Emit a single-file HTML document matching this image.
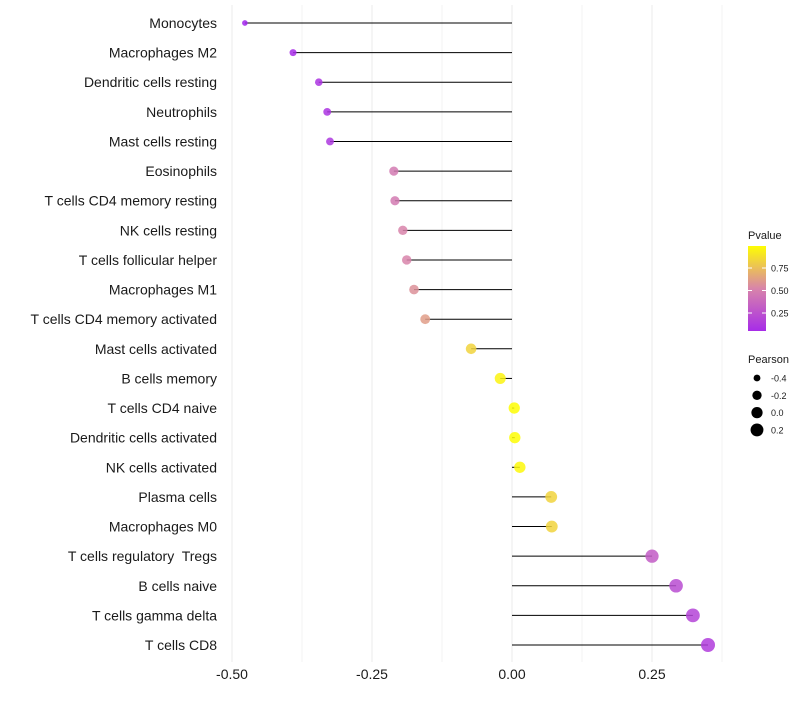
<!DOCTYPE html>
<html><head><meta charset="utf-8"><style>
body{margin:0;background:#fff;font-family:"Liberation Sans",sans-serif;}
svg text{font-family:"Liberation Sans",sans-serif;white-space:pre;}
</style></head><body>
<svg id="chart" width="800" height="700">
<g id="grid"></g>
<g id="marks"></g>
<g id="ylabels"></g>
<g id="xlabels"></g>
<g id="legend"></g>
</svg>
<script>
const categories=["Monocytes","Macrophages M2","Dendritic cells resting","Neutrophils","Mast cells resting","Eosinophils","T cells CD4 memory resting","NK cells resting","T cells follicular helper","Macrophages M1","T cells CD4 memory activated","Mast cells activated","B cells memory","T cells CD4 naive","Dendritic cells activated","NK cells activated","Plasma cells","Macrophages M0","T cells regulatory  Tregs","B cells naive","T cells gamma delta","T cells CD8"];
const pearson=[-0.477,-0.391,-0.345,-0.330,-0.325,-0.211,-0.209,-0.195,-0.188,-0.175,-0.155,-0.073,-0.021,0.004,0.005,0.014,0.070,0.071,0.250,0.293,0.323,0.350];
const pvalue=[0.02,0.06,0.1,0.1,0.12,0.45,0.45,0.5,0.5,0.55,0.6,0.82,0.95,0.99,0.99,0.97,0.82,0.82,0.3,0.22,0.18,0.14];
const xTicks=[-0.5,-0.25,0,0.25];
const xTickLabels=["-0.50","-0.25","0.00","0.25"];
const pTicks=[0.25,0.5,0.75];
const sizeTicks=[-0.4,-0.2,0.0,0.2];
const sizeTickLabels=["-0.4","-0.2","0.0","0.2"];

const NS="http://www.w3.org/2000/svg";
const xs=v=>512+v*560;
const ys=i=>23+i*(622/21);
const rs=v=>Math.sqrt(Math.max(2.5,12.25+49.7*(v+0.39)));
function lerp(a,b,t){return a.map((c,i)=>Math.round(c+(b[i]-c)*t));}
function col(p){const s0=[160,32,240],s1=[216,132,170],s2=[255,255,0];
 const c=p<0.5?lerp(s0,s1,p/0.5):lerp(s1,s2,(p-0.5)/0.5);return `rgb(${c})`;}
function mk(tag,attrs,parent){const e=document.createElementNS(NS,tag);for(const k in attrs)e.setAttribute(k,attrs[k]);parent.appendChild(e);return e;}
const grid=document.getElementById('grid'),marks=document.getElementById('marks'),yl=document.getElementById('ylabels'),xl=document.getElementById('xlabels'),lg=document.getElementById('legend');
for(let v=-0.5;v<=0.38;v+=0.125){const g=mk('line',{x1:xs(v),x2:xs(v),y1:5,y2:662,stroke:'#ebebeb','stroke-width':Math.abs((v*4)%1)<1e-6?1:0.6},grid);

}
categories.forEach((c,i)=>{
 const y=ys(i);
 const l=mk('line',{x1:xs(0),x2:xs(pearson[i]),y1:y,y2:y,stroke:'#000','stroke-width':1},marks);
 
 
 const d=mk('circle',{cx:xs(pearson[i]),cy:y,r:rs(pearson[i]),fill:col(pvalue[i]),'fill-opacity':0.85},marks);
 
 
 const t=mk('text',{x:217,y:y+5,'text-anchor':'end','font-size':14,fill:'#1a1a1a'},yl);t.textContent=c;
 
 
});
xTicks.forEach((v,i)=>{const t=mk('text',{x:xs(v),y:679,'text-anchor':'middle','font-size':14,fill:'#1a1a1a'},xl);t.textContent=xTickLabels[i];
 
 });
const defs=mk('defs',{},lg);const gr=mk('linearGradient',{id:'pg',x1:0,y1:1,x2:0,y2:0},defs);
[[0,0.06],[0.5,0.5],[1,0.99]].forEach(([o,p])=>mk('stop',{offset:o,'stop-color':col(p)},gr));
const pt=mk('text',{x:748,y:239,'font-size':11,fill:'#1a1a1a'},lg);pt.textContent='Pvalue';


const bar=mk('rect',{x:748,y:246,width:18,height:85,fill:'url(#pg)'},lg);


const py=p=>335.5-p*90;
pTicks.forEach(p=>{mk('line',{x1:748,x2:752,y1:py(p),y2:py(p),stroke:'#fff'},lg);mk('line',{x1:762,x2:766,y1:py(p),y2:py(p),stroke:'#fff'},lg);
 const t=mk('text',{x:771,y:py(p)+3.5,'font-size':9,fill:'#1a1a1a'},lg);t.textContent=p.toFixed(2);
 
 });
const st=mk('text',{x:748,y:363,'font-size':11,fill:'#1a1a1a'},lg);st.textContent='Pearson';


sizeTicks.forEach((v,i)=>{const y=378+i*17.3;
 const c=mk('circle',{cx:757,cy:y,r:rs(v),fill:'#000'},lg);
 
 
 const t=mk('text',{x:771,y:y+3.5,'font-size':9,fill:'#1a1a1a'},lg);t.textContent=sizeTickLabels[i];
 
 });
</script>
</body></html>
